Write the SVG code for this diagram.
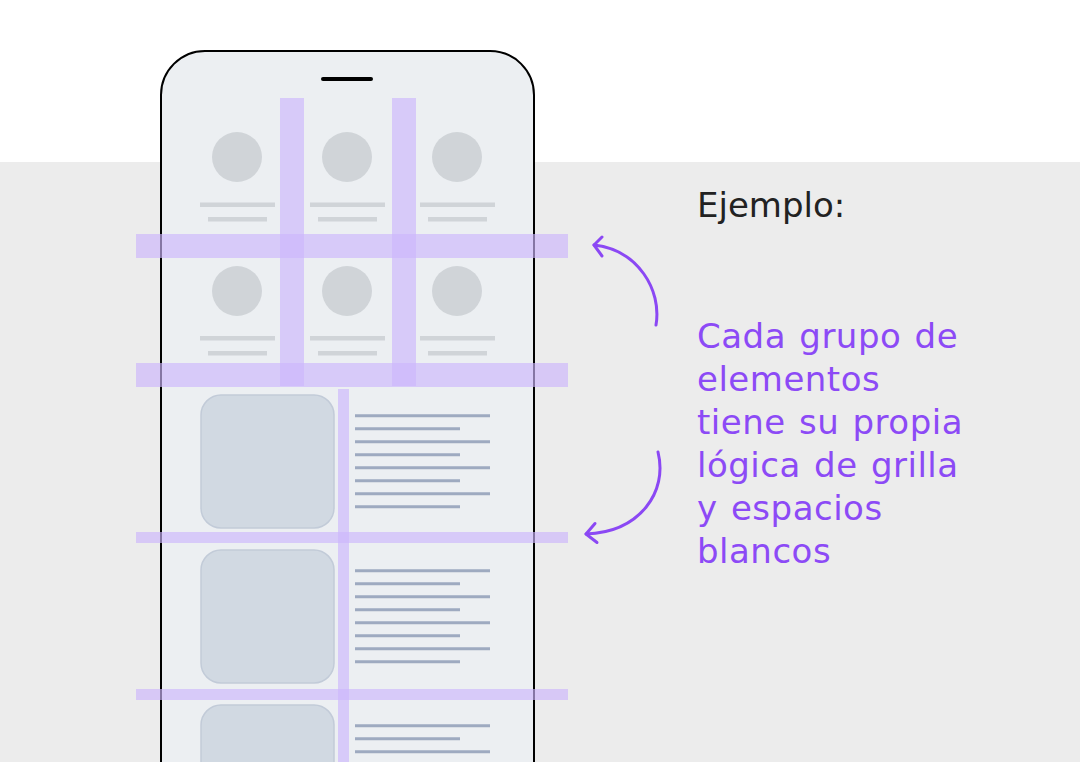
<svg xmlns="http://www.w3.org/2000/svg" width="1080" height="762" viewBox="0 0 1080 762">
<defs>
<style>
.av{fill:#d0d4d8}
.gl{fill:#d0d4d8}
.img{fill:#d1d9e2;stroke:#c2cbd8;stroke-width:1.5}
.tl{stroke:#9eaac0;stroke-width:3}
.band{fill:rgb(205,182,252);fill-opacity:0.65}
.arrow{fill:none;stroke:#8b48f4;stroke-width:3;stroke-linecap:round;stroke-linejoin:round}
.t{font-family:"DejaVu Sans",sans-serif;font-size:34px}
.p{fill:#8c4af6;letter-spacing:0.5px;word-spacing:2px}
</style>
</defs>
<rect x="0" y="0" width="1080" height="762" fill="#ffffff"/>
<rect x="0" y="162" width="1080" height="600" fill="#ececec"/>

<g id="phone">
<rect x="161" y="51" width="373" height="760" rx="44" fill="#eceff2" stroke="#000" stroke-width="2"/>
<line x1="323" y1="79" x2="371" y2="79" stroke="#000" stroke-width="4" stroke-linecap="round"/>
</g>

<g id="grid-cards">
<circle class="av" cx="237" cy="157" r="25"/>
<circle class="av" cx="347" cy="157" r="25"/>
<circle class="av" cx="457" cy="157" r="25"/>
<rect class="gl" x="200" y="202.5" width="75" height="4.5"/>
<rect class="gl" x="208" y="217" width="59" height="4.5"/>
<rect class="gl" x="310" y="202.5" width="75" height="4.5"/>
<rect class="gl" x="318" y="217" width="59" height="4.5"/>
<rect class="gl" x="420" y="202.5" width="75" height="4.5"/>
<rect class="gl" x="428" y="217" width="59" height="4.5"/>
<circle class="av" cx="237" cy="291" r="25"/>
<circle class="av" cx="347" cy="291" r="25"/>
<circle class="av" cx="457" cy="291" r="25"/>
<rect class="gl" x="200" y="336" width="75" height="4.5"/>
<rect class="gl" x="208" y="351" width="59" height="4.5"/>
<rect class="gl" x="310" y="336" width="75" height="4.5"/>
<rect class="gl" x="318" y="351" width="59" height="4.5"/>
<rect class="gl" x="420" y="336" width="75" height="4.5"/>
<rect class="gl" x="428" y="351" width="59" height="4.5"/>
</g>

<g id="list-items">
<rect class="img" x="201" y="395" width="133" height="133" rx="20"/>
<rect class="img" x="201" y="550" width="133" height="133" rx="20"/>
<rect class="img" x="201" y="705" width="133" height="133" rx="20"/>
<g id="text-lines-1">
<line class="tl" x1="355" y1="415.7" x2="490" y2="415.7"/>
<line class="tl" x1="355" y1="428.7" x2="460" y2="428.7"/>
<line class="tl" x1="355" y1="441.7" x2="490" y2="441.7"/>
<line class="tl" x1="355" y1="454.7" x2="460" y2="454.7"/>
<line class="tl" x1="355" y1="467.7" x2="490" y2="467.7"/>
<line class="tl" x1="355" y1="480.7" x2="460" y2="480.7"/>
<line class="tl" x1="355" y1="493.7" x2="490" y2="493.7"/>
<line class="tl" x1="355" y1="506.7" x2="460" y2="506.7"/>
</g>
<g id="text-lines-2">
<line class="tl" x1="355" y1="570.7" x2="490" y2="570.7"/>
<line class="tl" x1="355" y1="583.7" x2="460" y2="583.7"/>
<line class="tl" x1="355" y1="596.7" x2="490" y2="596.7"/>
<line class="tl" x1="355" y1="609.7" x2="460" y2="609.7"/>
<line class="tl" x1="355" y1="622.7" x2="490" y2="622.7"/>
<line class="tl" x1="355" y1="635.7" x2="460" y2="635.7"/>
<line class="tl" x1="355" y1="648.7" x2="490" y2="648.7"/>
<line class="tl" x1="355" y1="661.7" x2="460" y2="661.7"/>
</g>
<g id="text-lines-3">
<line class="tl" x1="355" y1="725.7" x2="490" y2="725.7"/>
<line class="tl" x1="355" y1="738.7" x2="460" y2="738.7"/>
<line class="tl" x1="355" y1="751.7" x2="490" y2="751.7"/>
<line class="tl" x1="355" y1="764.7" x2="460" y2="764.7"/>
</g>
</g>

<g id="grid-overlay">
<rect class="band" x="280" y="98" width="24" height="288"/>
<rect class="band" x="392" y="98" width="24" height="288"/>
<rect class="band" x="136" y="234" width="432" height="24"/>
<rect class="band" x="136" y="363" width="432" height="24"/>
<rect class="band" x="338" y="389" width="11" height="380"/>
<rect class="band" x="136" y="532" width="432" height="11"/>
<rect class="band" x="136" y="689" width="432" height="11"/>
</g>

<g id="label-ejemplo">
<text class="t" x="697" y="217" fill="#222222">Ejemplo:</text>
</g>

<g id="label-desc">
<text class="t p" x="697" y="348">Cada grupo de</text>
<text class="t p" x="697" y="391">elementos</text>
<text class="t p" x="697" y="434">tiene su propia</text>
<text class="t p" x="697" y="477">lógica de grilla</text>
<text class="t p" x="697" y="520">y espacios</text>
<text class="t p" x="697" y="563">blancos</text>
</g>

<g id="connectors">
<path class="arrow" d="M656,325 C662,290 638,250 594,245"/>
<path class="arrow" d="M602,237 L594,245 L602,256"/>
<path class="arrow" d="M658,452 C668,492 640,532 586,534"/>
<path class="arrow" d="M595,523.5 L586,534 L597,542.5"/>
</g>
</svg>
